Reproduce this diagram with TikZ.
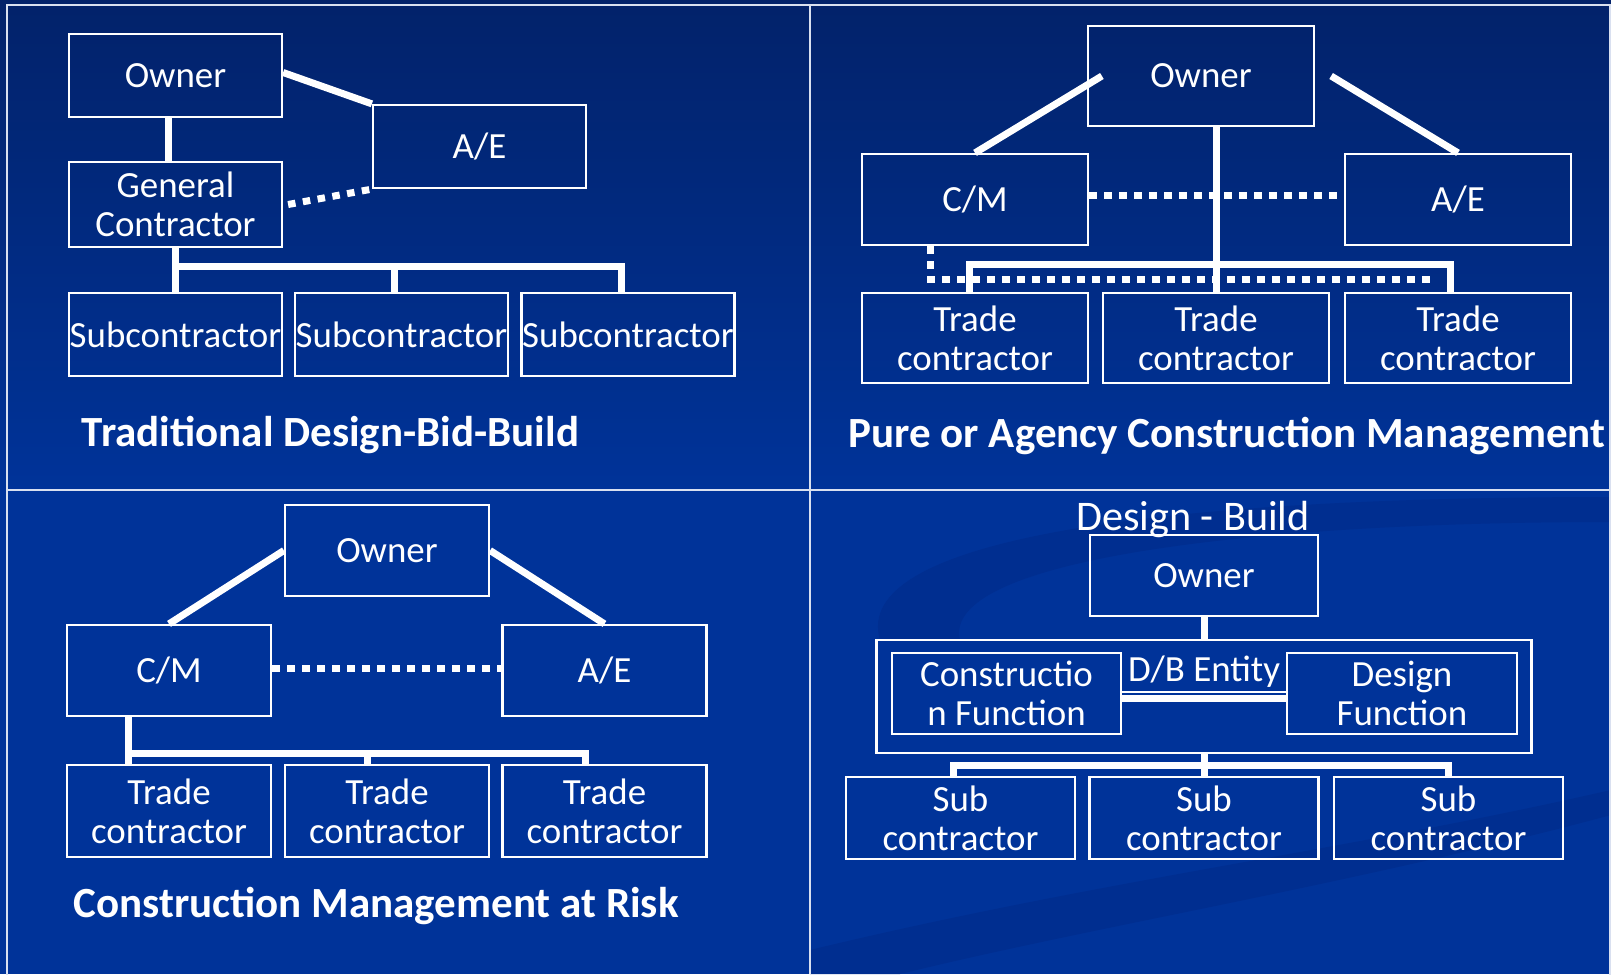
\documentclass[tikz,border=0pt]{standalone}
\usepackage{fontspec}
\setmainfont{Carlito}
\definecolor{bgblue}{RGB}{0,51,153}
\definecolor{bgtop}{RGB}{2,34,106}
\definecolor{swirl}{RGB}{0,46,144}
\newcommand{\boxfont}{\fontsize{21}{22}\selectfont}
\newcommand{\titlefont}{\fontsize{24.5}{27}\selectfont\bfseries}

\begin{document}
\begin{tikzpicture}[x=0.02cm, y=-0.02cm,
        box/.style={draw=white, line width=0.045cm, text=white, align=center, inner sep=0pt, font=\boxfont},
        link/.style={draw=white, line width=0.14cm},
        dots/.style={draw=white, line width=0.14cm, dash pattern=on 0.15cm off 0.15cm},
        rule/.style={draw=white!85!bgblue, line width=0.04cm},
        heading/.style={text=white, font=\titlefont}]
    \useasboundingbox (0,0) rectangle (1611,974);
    \fill[bgblue] (0,0) rectangle (1611,974);
    \shade[top color=bgtop, bottom color=bgblue] (0,0) rectangle (1611,490);
    \fill[swirl] (880,640) .. controls (850,540) and (1150,497) .. (1611,497) -- (1611,522) .. controls (1250,522) and (940,560) .. (960,640) -- cycle;
    \fill[swirl] (810,974) -- (810,950) .. controls (1100,880) and (1350,850) .. (1611,790) -- (1611,815) .. controls (1350,885) and (1100,925) .. (900,974) -- cycle;
    \draw[rule] (7,5) rectangle (1610,990);
    \draw[rule] (809.5,5) -- (809.5,974);
    \draw[rule] (7,490) -- (1610,490);

    \begin{scope}[every node/.style={box, minimum width=4.26cm, minimum height=1.66cm}]
        \node (a1) at (175.5,75.5) {Owner};
        \node (a2) at (479.5,146.5) {A/E};
        \node[minimum height=1.7cm] (a3) at (175.5,204.5) {General\\Contractor};
        \node (a4) at (175.5,334.5) {Subcontractor};
        \node (a5) at (401.5,334.5) {Subcontractor};
        \node (a6) at (628,334.5) {Subcontractor};
    \end{scope}
    \coordinate (ab1) at (175.5,266);
    \coordinate (ab2) at (394,266);
    \coordinate (ab3) at (621,266);
    \draw[link] ([xshift=-0.14cm]a1.south) -- ([xshift=-0.14cm]a3.north);
    \draw[link] ([yshift=0.06cm]a1.east) -- (a2.north west);
    \draw[dots] ([xshift=0.1cm]a3.east) -- (a2.south west);
    \draw[link] (a3.south) -- (a4.north);
    \draw[link] (ab1) -- (ab3) -- (a6.north -| ab3);
    \draw[link] (ab2) -- (a5.north -| ab2);
    \node[heading] (t1) at (330.5,435) {Traditional Design-Bid-Build};

    \begin{scope}[every node/.style={box, minimum width=4.52cm, minimum height=1.82cm}]
        \node[minimum height=2cm] (b1) at (1201,76) {Owner};
        \node (b2) at (975,199.5) {C/M};
        \node (b3) at (1458,199.5) {A/E};
        \node[minimum height=1.8cm] (b4) at (975,338) {Trade\\contractor};
        \node[minimum height=1.8cm] (b5) at (1216,338) {Trade\\contractor};
        \node[minimum height=1.8cm] (b6) at (1458,338) {Trade\\contractor};
    \end{scope}
    \coordinate (bb1) at (969,264);
    \coordinate (bb2) at (1450,264);
    \coordinate (bd1) at (930,279);
    \coordinate (bd2) at (1436,279);
    \draw[link] ([xshift=0.3cm]b1.west) -- (b2.north);
    \draw[link] ([xshift=0.32cm]b1.east) -- (b3.north);
    \draw[link] (b1.south -| b5.north) -- (b5.north);
    \draw[dots] ([yshift=0.09cm]b2.east) -- ([yshift=0.09cm]b3.west);
    \draw[link] (b4.north -| bb1) -- (bb1) -- (bb2) -- (b6.north -| bb2);
    \draw[dots] (b2.south -| bd1) -- (bd1) -- (bd2);
    \node[heading] (t2) at (1227,436) {Pure or Agency Construction Management};

    \begin{scope}[every node/.style={box, minimum width=4.08cm, minimum height=1.82cm}]
        \node (c1) at (387,550.5) {Owner};
        \node (c2) at (169,670.5) {C/M};
        \node (c3) at (604.5,670.5) {A/E};
        \node[minimum height=1.84cm] (c4) at (169,811) {Trade\\contractor};
        \node[minimum height=1.84cm] (c5) at (387,811) {Trade\\contractor};
        \node[minimum height=1.84cm] (c6) at (604.5,811) {Trade\\contractor};
    \end{scope}
    \coordinate (cb1) at (128,753);
    \coordinate (cb2) at (367,753);
    \coordinate (cb3) at (585,753);
    \draw[link] (c1.west) -- (c2.north);
    \draw[link] (c1.east) -- (c3.north);
    \draw[dots] ([yshift=0.05cm]c2.east) -- ([yshift=0.05cm]c3.west);
    \draw[link] (c2.south -| cb1) -- (c4.north -| cb1);
    \draw[link] (cb1) -- (cb3) -- (c6.north -| cb3);
    \draw[link] (cb2) -- (c5.north -| cb2);
    \node[heading] (t3) at (376,906) {Construction Management at Risk};

    \node[text=white, font=\fontsize{24}{26}\selectfont] (d0) at (1193,519) {Design - Build};
    \begin{scope}[every node/.style={box, minimum width=4.58cm, minimum height=1.62cm}]
        \node[minimum width=4.56cm] (d1) at (1204,575.5) {Owner};
        \node[minimum width=13.1cm, minimum height=2.26cm] (d2) at (1204,696.5) {};
        \node (d3) at (1006.5,693.5) {Constructio\\n Function};
        \node[minimum width=4.6cm] (d4) at (1402,693.5) {Design\\Function};
        \node[minimum height=1.64cm] (d5) at (960.5,818) {Sub\\contractor};
        \node[minimum height=1.64cm] (d6) at (1204,818) {Sub\\contractor};
        \node[minimum height=1.64cm] (d7) at (1448.5,818) {Sub\\contractor};
    \end{scope}
    \node[text=white, font=\boxfont] (d8) at (1204,672) {D/B Entity};
    \coordinate (db1) at (953,765);
    \coordinate (db2) at (1448,765);
    \draw[link] (d1.south) -- (d2.north);
    \draw[link, line width=0.03cm] ([yshift=0.03cm]d3.east) -- ([yshift=0.03cm]d4.west);
    \draw[link] ([yshift=-0.1cm]d3.east) -- ([yshift=-0.1cm]d4.west);
    \draw[link] (d2.south) -- (d6.north);
    \draw[link] (d5.north -| db1) -- (db1) -- (db2) -- (d7.north -| db2);
\end{tikzpicture}
\end{document}
